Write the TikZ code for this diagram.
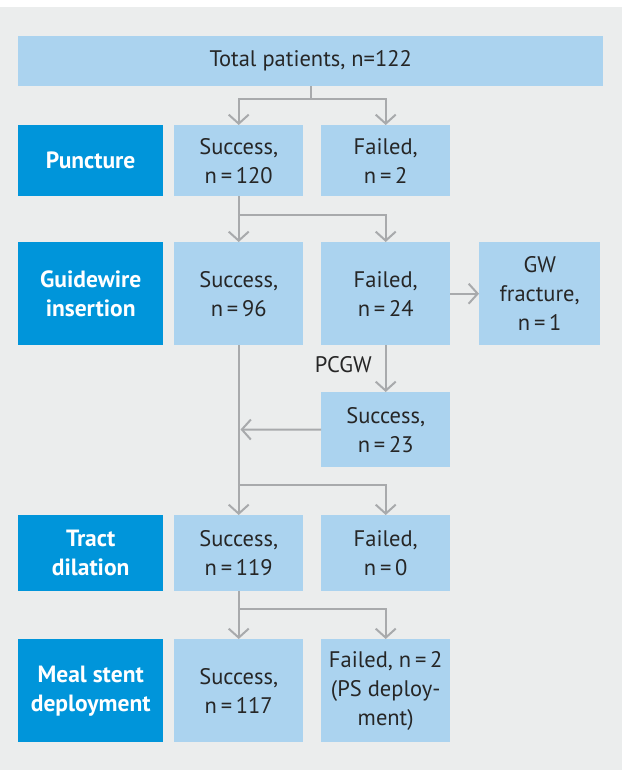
\documentclass[tikz,border=0pt]{standalone}
\usepackage{fontspec}
\setmainfont{PT Sans}
\usetikzlibrary{arrows.meta}
\definecolor{bg}{RGB}{235,237,237}
\definecolor{lightb}{RGB}{171,211,239}
\definecolor{darkb}{RGB}{0,149,218}
\definecolor{ink}{RGB}{38,38,38}
\definecolor{wire}{RGB}{168,170,172}
\begin{document}
\begin{tikzpicture}[x=1pt, y=-1pt,
  lbox/.style = {fill=lightb, text=ink, align=center, inner sep=0pt, anchor=north west,
                 font=\fontsize{22.5}{29}\selectfont},
  dbox/.style = {fill=darkb, text=white, align=center, inner sep=0pt, anchor=north west,
                 font=\bfseries\fontsize{23.5}{29}\selectfont},
  line/.style = {draw=wire, line width=2pt},
  arr/.style = {line, -{Straight Barb[length=9pt,width=20pt]}}]
\useasboundingbox (0,0) rectangle (622,770);
\fill[bg] (0,7) rectangle (622,770);

% boxes
\node[lbox, minimum width=585, minimum height=50] (tot) at (18,36) {Total patients, n=122};

\node[dbox, minimum width=145, minimum height=71] (pun) at (18,125) {Puncture};
\node[lbox, minimum width=129, minimum height=71] (pun1) at (174,125) {Success,\\n\,=\,120};
\node[lbox, minimum width=129, minimum height=71] (pun2) at (321,125) {Failed,\\n\,=\,2};

\node[dbox, minimum width=145, minimum height=103] (gw) at (18,242) {Guidewire\\insertion};
\node[lbox, minimum width=129, minimum height=103] (gw1) at (174,242) {Success,\\n\,=\,96};
\node[lbox, minimum width=129, minimum height=103] (gw2) at (321,242) {Failed,\\n\,=\,24};
\node[lbox, minimum width=121, minimum height=103] (gwx) at (479,242) {GW\\fracture,\\n\,=\,1};
\node[lbox, minimum width=129, minimum height=75] (gw3) at (321,392) {Success,\\n\,=\,23};

\node[dbox, minimum width=145, minimum height=76] (tra) at (18,515) {Tract\\dilation};
\node[lbox, minimum width=129, minimum height=76] (tra1) at (174,515) {Success,\\n\,=\,119};
\node[lbox, minimum width=129, minimum height=76] (tra2) at (321,515) {Failed,\\n\,=\,0};

\node[dbox, minimum width=145, minimum height=103] (mea) at (18,639) {Meal stent\\deployment};
\node[lbox, minimum width=129, minimum height=103] (mea1) at (174,639) {Success,\\n\,=\,117};
\node[lbox, minimum width=129, minimum height=103] (mea2) at (321,639) {Failed, n\,=\,2\\(PS deploy-\\ment)};

% joints
\coordinate (j0) at (311,99);
\coordinate (j1) at (238.5,215);
\coordinate (j2) at (238.5,485);
\coordinate (j3) at (238.5,609);
\coordinate (m) at (240.5,429.5);

% connectors
\draw[line] (tot.south -| j0) -- (j0);
\draw[arr] (j0) -| (pun1.north);
\draw[arr] (j0) -| (pun2.north);
\draw[arr] (pun1) -- (gw1);
\draw[arr] (j1) -| (gw2.north);
\draw[arr] (gw2) -- (gwx);
\draw[arr] (gw2) -- node[left, text=ink, font=\fontsize{22.5}{29}\selectfont, inner sep=2pt, xshift=-11pt, pos=0.42] {PCGW} (gw3);
\draw[arr] (gw3.west) -- (m);
\draw[arr] (gw1) -- (tra1);
\draw[arr] (j2) -| (tra2.north);
\draw[arr] (tra1) -- (mea1);
\draw[arr] (j3) -| (mea2.north);
\end{tikzpicture}
\end{document}
